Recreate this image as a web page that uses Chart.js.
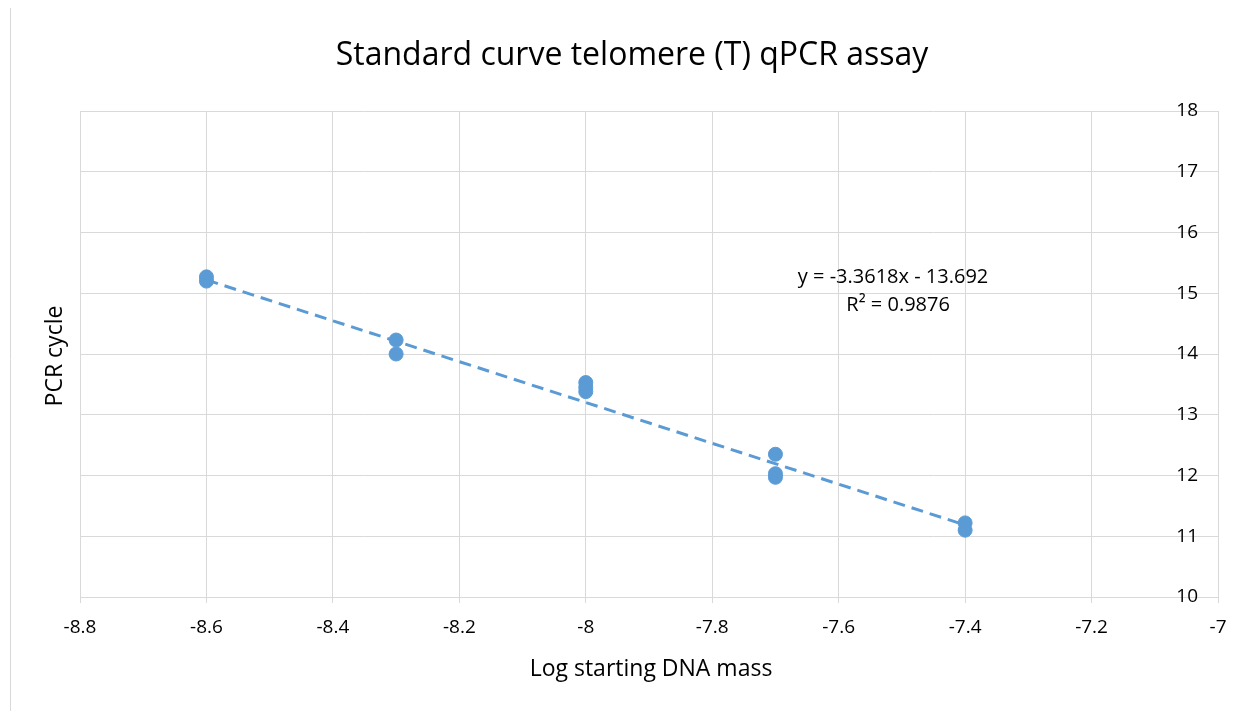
<!DOCTYPE html>
<html>
<head>
<meta charset="utf-8">
<script src="https://cdn.jsdelivr.net/npm/chart.js@4.4.1/dist/chart.umd.min.js"></script>
<style>
  html,body{margin:0;padding:0;background:#fff;}
  #wrap{width:1251px;height:711px;position:relative;}
</style>
</head>
<body>
<div id="wrap"><canvas id="c" width="1251" height="711"></canvas></div>
<script>
// ---- data ----
const chartTitle = 'Standard curve telomere (T) qPCR assay';
const xAxisTitle = 'Log starting DNA mass';
const yAxisTitle = 'PCR cycle';
const logMass = [-8.6, -8.6, -8.3, -8.3, -8.0, -8.0, -8.0, -7.7, -7.7, -7.7, -7.4, -7.4];
const pcrCycle = [15.27, 15.20, 14.23, 14.00, 13.53, 13.45, 13.38, 12.35, 12.03, 11.97, 11.22, 11.10];
const trendX = [-8.6, -7.4];
const trendY = [15.219, 11.185];
const equationLines = ['y = -3.3618x - 13.692', 'R² = 0.9876'];
const xTicks = [-8.8, -8.6, -8.4, -8.2, -8, -7.8, -7.6, -7.4, -7.2, -7];
const yTicks = [10, 11, 12, 13, 14, 15, 16, 17, 18];

const FONT = '"Open Sans", "Noto Sans", sans-serif';
const BLUE = '#5b9bd5';
const GRID = '#d9d9d9';

const decor = {
  id: 'decor',
  beforeDraw(chart) {
    const ctx = chart.ctx;
    ctx.save();
    ctx.strokeStyle = GRID;
    ctx.lineWidth = 1;
    ctx.beginPath();
    ctx.moveTo(10.5, 8);
    ctx.lineTo(10.5, 711);
    ctx.stroke();
    ctx.restore();
  },
  afterDraw(chart) {
    const ctx = chart.ctx;
    const x = chart.scales.x, y = chart.scales.y;
    ctx.save();
    ctx.fillStyle = '#000';
    ctx.textAlign = 'center';
    ctx.textBaseline = 'middle';
    ctx.font = '32px ' + FONT;
    ctx.fillText(chartTitle, 632, 56);
    ctx.font = '23px ' + FONT;
    ctx.fillText(xAxisTitle, 651, 669);
    ctx.save();
    ctx.translate(55, 356);
    ctx.rotate(-Math.PI / 2);
    ctx.fillText(yAxisTitle, 0, 0);
    ctx.restore();
    ctx.font = '20px ' + FONT;
    ctx.fillText(equationLines[0], x.getPixelForValue(-7.514), y.getPixelForValue(15.27));
    ctx.fillText(equationLines[1], x.getPixelForValue(-7.506), y.getPixelForValue(14.8));
    ctx.restore();
  }
};

new Chart(document.getElementById('c'), {
  type: 'scatter',
  data: {
    datasets: [
      {
        label: 'trend',
        type: 'line',
        data: trendX.map((v, i) => ({x: v, y: trendY[i]})),
        borderColor: BLUE,
        borderWidth: 3,
        borderDash: [12, 7],
        pointRadius: 0,
        fill: false,
        order: 2
      },
      {
        label: 'PCR cycle',
        data: logMass.map((v, i) => ({x: v, y: pcrCycle[i]})),
        backgroundColor: BLUE,
        borderColor: BLUE,
        pointRadius: 7,
        pointHoverRadius: 7,
        order: 1
      }
    ]
  },
  options: {
    responsive: false,
    animation: false,
    events: [],
    layout: { padding: { left: 80, right: 33, top: 111, bottom: 0 } },
    plugins: { legend: { display: false }, tooltip: { enabled: false }, title: { display: false } },
    scales: {
      x: {
        type: 'linear',
        position: 'bottom',
        min: -8.8, max: -7,
        afterBuildTicks(s) { s.ticks = xTicks.map(v => ({value: v})); },
        afterFit(s) { s.height = 711 - 597; },
        ticks: {
          color: '#000',
          font: { family: FONT, size: 19 },
          padding: 13,
          maxRotation: 0,
          autoSkip: false,
          callback: v => String(Number(v.toFixed(1)))
        },
        grid: { color: GRID, lineWidth: 1, tickLength: 6, drawTicks: true },
        border: { color: GRID, width: 1 }
      },
      y: {
        type: 'linear',
        position: 'right',
        min: 10, max: 18,
        afterBuildTicks(s) { s.ticks = yTicks.map(v => ({value: v})); },
        afterFit(s) { s.width = 0; },
        ticks: {
          mirror: true,
          color: '#000',
          font: { family: FONT, size: 19 },
          padding: -20
        },
        grid: { color: GRID, lineWidth: 1, drawTicks: false },
        border: { color: GRID, width: 1 }
      }
    }
  },
  plugins: [decor]
});
</script>
</body>
</html>
